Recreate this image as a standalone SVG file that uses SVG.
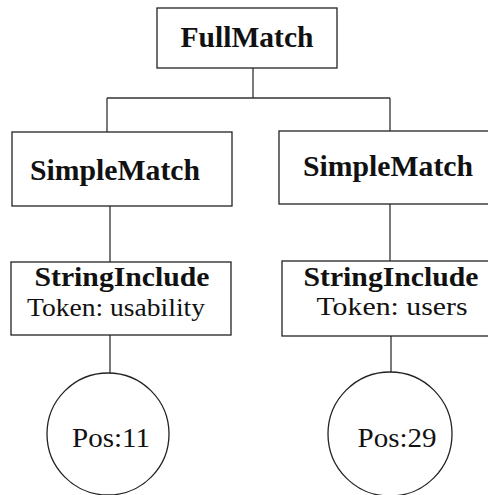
<svg xmlns="http://www.w3.org/2000/svg" width="488" height="495" viewBox="0 0 488 495">
<style>
.box{fill:#fff;stroke:#222;stroke-width:1.3}
.edge{fill:none;stroke:#333;stroke-width:1.3}
.b{font-family:"Liberation Serif",serif;font-weight:bold;font-size:30px;fill:#111;text-anchor:middle}
.r{font-family:"Liberation Serif",serif;font-size:28px;fill:#111;text-anchor:middle}
.s{font-size:27px}
.t{font-size:25px}
</style>
<rect width="488" height="495" fill="#fff"/>
<g id="connectors">
<path class="edge" d="M253 68V98M107 98H390M107 98V132M390 98V131"/>
<path class="edge" d="M110 206V262M390 204V261"/>
<path class="edge" d="M110 335V373M391 336V373"/>
</g>
<g id="fullmatch">
<rect class="box" x="157" y="8" width="180" height="60"/>
<text class="b" x="247" y="47" textLength="133" lengthAdjust="spacingAndGlyphs">FullMatch</text>
</g>
<g id="simplematch-left">
<rect class="box" x="12" y="132" width="220" height="74"/>
<text class="b" x="115" y="180" textLength="170" lengthAdjust="spacingAndGlyphs">SimpleMatch</text>
</g>
<g id="simplematch-right">
<rect class="box" x="279" y="131" width="215" height="73"/>
<text class="b" x="388" y="176" textLength="170" lengthAdjust="spacingAndGlyphs">SimpleMatch</text>
</g>
<g id="stringinclude-left">
<rect class="box" x="11" y="262" width="220" height="73"/>
<text class="b s" x="122" y="286" textLength="175" lengthAdjust="spacingAndGlyphs">StringInclude</text>
<text class="r t" x="116" y="316" textLength="178" lengthAdjust="spacingAndGlyphs">Token: usability</text>
</g>
<g id="stringinclude-right">
<rect class="box" x="282" y="261" width="212" height="75"/>
<text class="b s" x="391" y="286" textLength="175" lengthAdjust="spacingAndGlyphs">StringInclude</text>
<text class="r t" x="392" y="315" textLength="151" lengthAdjust="spacingAndGlyphs">Token: users</text>
</g>
<g id="pos11">
<circle class="box" cx="108" cy="434" r="61"/>
<text class="r" x="111" y="447" textLength="78" lengthAdjust="spacingAndGlyphs">Pos:11</text>
</g>
<g id="pos29">
<circle class="box" cx="390" cy="434" r="62"/>
<text class="r" x="397" y="447" textLength="79" lengthAdjust="spacingAndGlyphs">Pos:29</text>
</g>
</svg>
